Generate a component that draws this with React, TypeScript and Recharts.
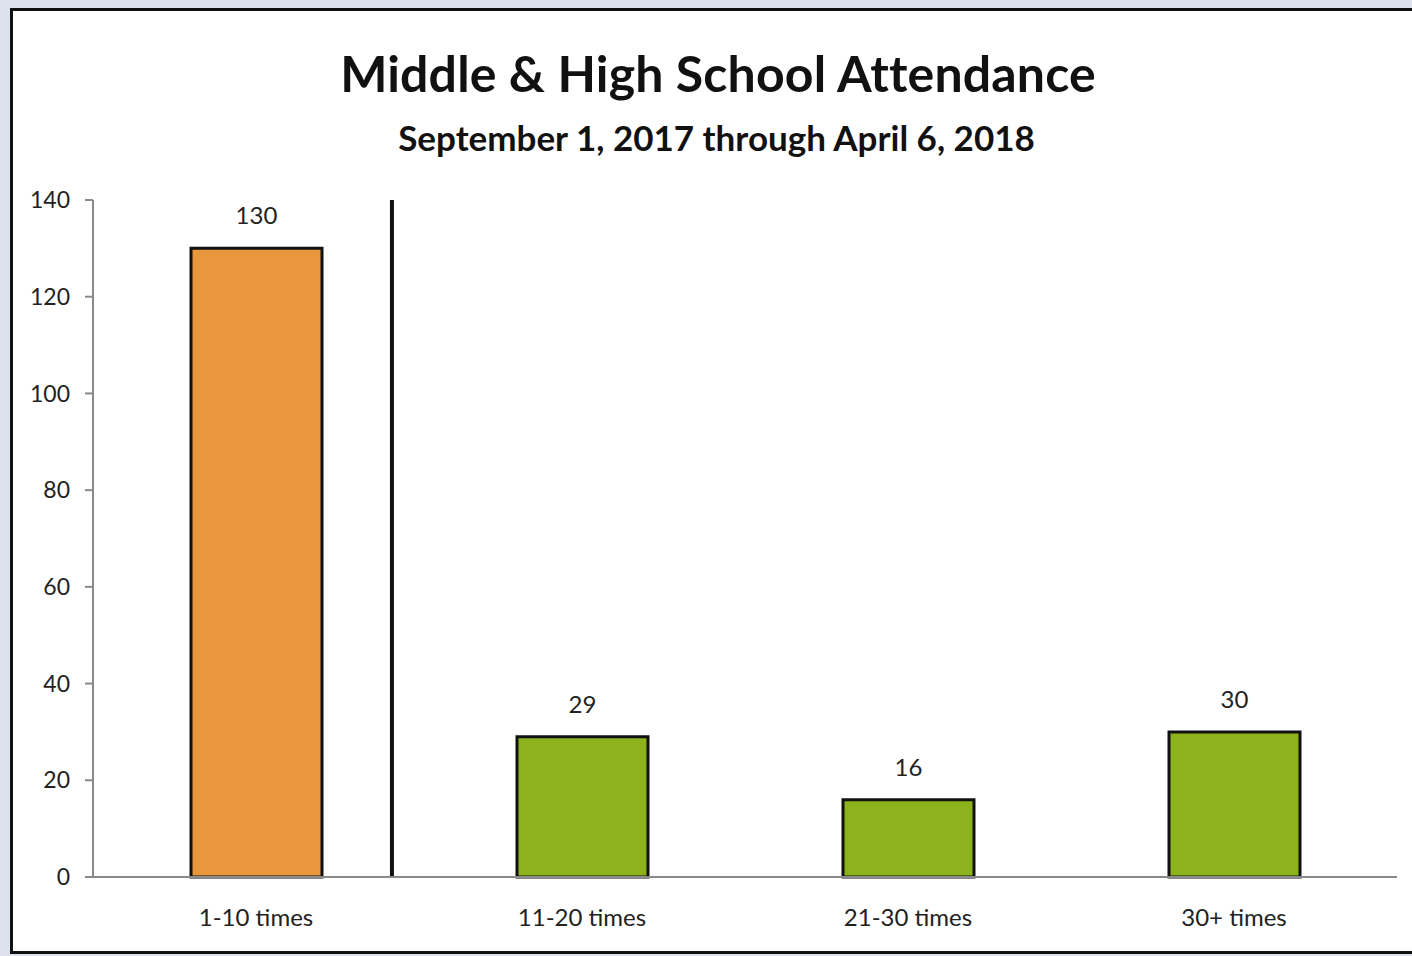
import React from "react";
import { BarChart, Bar, XAxis, YAxis, Cell, LabelList, ReferenceLine } from "recharts";

const categories = ["1-10 times", "11-20 times", "21-30 times", "30+ times"];
const values = [130, 29, 16, 30];
const slots = [0.5, 1.5, 2.5, 3.5];
const barColors = ["#E9973C", "#8CB21C", "#8CB21C", "#8CB21C"];
const yTicks = [0, 20, 40, 60, 80, 100, 120, 140];
const dividerPosition = 0.917; // in category-band units from the left of the plot

const data = categories.map((c, i) => ({ name: c, value: values[i], slot: slots[i] }));

const FONT = "Lato, 'Open Sans', sans-serif";

export default function App() {
  return (
    <div
      style={{
        position: "absolute",
        left: 0,
        top: 0,
        width: 1412,
        height: 956,
        background: "#dde3ec",
        overflow: "hidden",
        fontFamily: FONT,
      }}
    >
      <div
        style={{
          position: "absolute",
          left: 10,
          top: 8,
          width: 1420,
          height: 940,
          border: "3px solid #111",
          background: "#ffffff",
        }}
      />
      <div
        style={{
          position: "absolute",
          left: 0,
          width: 1436,
          top: 38,
          textAlign: "center",
          fontSize: 50,
          fontWeight: 700,
          color: "#111",
          letterSpacing: 0.15,
          lineHeight: "70px",
        }}
      >
        Middle &amp; High School Attendance
      </div>
      <div
        style={{
          position: "absolute",
          left: 0,
          width: 1433,
          top: 114,
          textAlign: "center",
          fontSize: 35,
          fontWeight: 700,
          color: "#111",
          letterSpacing: 0,
          lineHeight: "46px",
        }}
      >
        September 1, 2017 through April 6, 2018
      </div>
      <div style={{ position: "absolute", left: 0, top: 0 }}>
        <BarChart
          width={1412}
          height={956}
          data={data}
          margin={{ top: 200, right: 15, bottom: 29, left: 0 }}
        >
          <XAxis
            dataKey="name"
            axisLine={{ stroke: "#8a8a8a", strokeWidth: 2 }}
            tickLine={false}
            tickSize={0}
            tickMargin={32}
            height={50}
            interval={0}
            tick={{ fill: "#222", fontSize: 24, fontFamily: FONT }}
          />
          <XAxis
            xAxisId="pos"
            dataKey="slot"
            type="number"
            domain={[0, 4]}
            hide
            allowDataOverflow
          />
          <YAxis
            width={93}
            domain={[0, 140]}
            ticks={yTicks}
            interval={0}
            axisLine={{ stroke: "#8a8a8a", strokeWidth: 2 }}
            tickLine={{ stroke: "#8a8a8a", strokeWidth: 2 }}
            tickSize={8}
            tickMargin={15}
            tick={{ fill: "#222", fontSize: 23, fontFamily: FONT }}
          />
          <ReferenceLine
            xAxisId="pos"
            x={dividerPosition}
            stroke="#111"
            strokeWidth={4}
          />
          <Bar dataKey="value" barSize={131} stroke="#111" strokeWidth={3} isAnimationActive={false}>
            {data.map((d, i) => (
              <Cell key={d.name} fill={barColors[i]} />
            ))}
            <LabelList
              dataKey="value"
              position="top"
              offset={24}
              style={{ fill: "#222", fontSize: 24, fontFamily: FONT }}
            />
          </Bar>
        </BarChart>
      </div>
    </div>
  );
}
